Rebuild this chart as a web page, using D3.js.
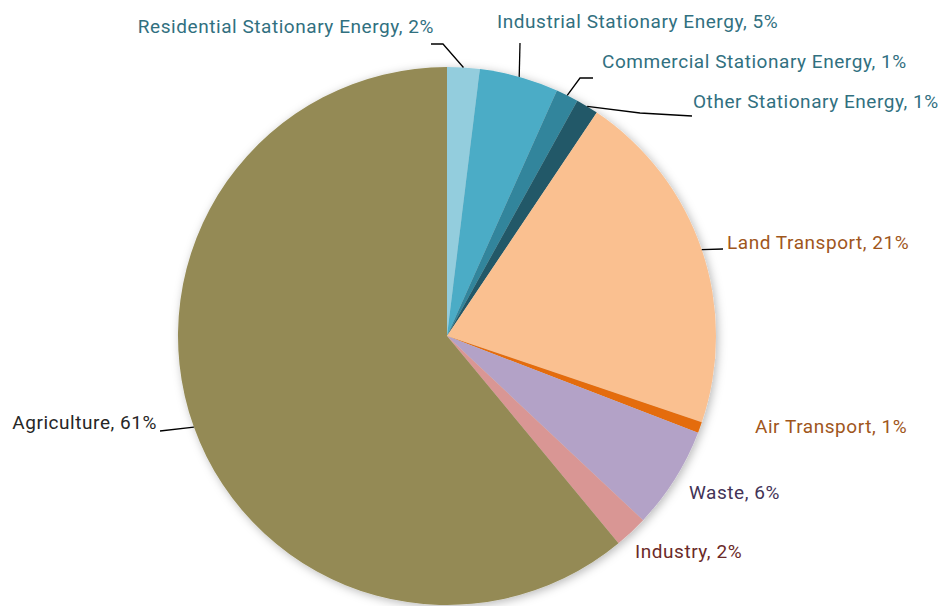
<!DOCTYPE html>
<html>
<head>
<meta charset="utf-8">
<script src="https://cdn.jsdelivr.net/npm/d3@7"></script>
<style>
	html, body { margin: 0; padding: 0; background: #fff; }
	svg text { font-family: Roboto, "Open Sans", sans-serif; font-size: 19px; letter-spacing: 0.55px; }
</style>
</head>
<body>
<div id="chart"></div>
<script>
"use strict";

const categories = ['Residential Stationary Energy', 'Industrial Stationary Energy', 'Commercial Stationary Energy', 'Other Stationary Energy',
	'Land Transport', 'Air Transport', 'Waste', 'Industry', 'Agriculture'];
const values = [1.95, 4.75, 1.35, 1.35, 20.8, 0.65, 6.15, 2.0, 61.0];
const percentLabels = ['2%', '5%', '1%', '1%', '21%', '1%', '6%', '2%', '61%'];
const sliceColors = ['#93cddd', '#4bacc6', '#31859c', '#215968', '#fac090', '#e46c0a', '#b3a2c7', '#d99694', '#948a54'];
const labelColors = ['#31707f', '#31707f', '#31707f', '#31707f', '#a0561c', '#a0561c', '#433357', '#6b2a28', '#262626'];

//  label placement: text anchor point, anchor side, leader route (null = no leader)
const labelLayout = [
	{ x: 434, y: 33, anchor: 'end',   leader: [[443, 44], [431, 44]] },
	{ x: 497, y: 28, anchor: 'start', leader: [[520, 43]] },
	{ x: 602, y: 68, anchor: 'start', leader: [[580, 78], [593, 78]] },
	{ x: 693, y: 108, anchor: 'start', leader: [[640, 113], [692, 116]] },
	{ x: 727, y: 249, anchor: 'start', leader: [[723, 249]] },
	{ x: 755, y: 433, anchor: 'start', leader: null },
	{ x: 689, y: 499, anchor: 'start', leader: null },
	{ x: 635, y: 558, anchor: 'start', leader: null },
	{ x: 157, y: 429, anchor: 'end',   leader: [[160, 431]] },
];

const width = 946, height = 606;
const cx = 447, cy = 336, radius = 269;

const svg = d3.select('#chart').append('svg')
	.attr('width', width)
	.attr('height', height)
	.attr('viewBox', [0, 0, width, height]);

const defs = svg.append('defs');
const shadow = defs.append('filter')
	.attr('id', 'shadow')
	.attr('x', '-10%').attr('y', '-10%')
	.attr('width', '120%').attr('height', '120%');
shadow.append('feDropShadow')
	.attr('dx', 2).attr('dy', 2)
	.attr('stdDeviation', 5)
	.attr('flood-color', '#000')
	.attr('flood-opacity', 0.28);

const rows = categories.map((name, i) => ({ name, value: values[i], index: i }));

const pie = d3.pie()
	.value(d => d.value)
	.sort(null);

const arc = d3.arc()
	.innerRadius(0)
	.outerRadius(radius);

const arcs = pie(rows);

const g = svg.append('g')
	.attr('transform', `translate(${cx},${cy})`);

g.append('g')
	.attr('filter', 'url(#shadow)')
	.selectAll('path')
	.data(arcs)
	.join('path')
		.attr('d', arc)
		.attr('fill', d => sliceColors[d.index]);

//  leader lines start at the middle of each slice's outer edge
function edgePoint(d)
{
	const a = (d.startAngle + d.endAngle) / 2;
	return [cx + radius * Math.sin(a), cy - radius * Math.cos(a)];
}

const line = d3.line();

svg.append('g')
	.selectAll('path')
	.data(arcs.filter(d => labelLayout[d.index].leader))
	.join('path')
		.attr('d', d => line([edgePoint(d), ...labelLayout[d.index].leader]))
		.attr('fill', 'none')
		.attr('stroke', '#000')
		.attr('stroke-width', 1.3);

svg.append('g')
	.selectAll('text')
	.data(arcs)
	.join('text')
		.attr('x', d => labelLayout[d.index].x)
		.attr('y', d => labelLayout[d.index].y)
		.attr('text-anchor', d => labelLayout[d.index].anchor)
		.attr('fill', d => labelColors[d.index])
		.text(d => `${d.data.name}, ${percentLabels[d.index]}`);
</script>
</body>
</html>
